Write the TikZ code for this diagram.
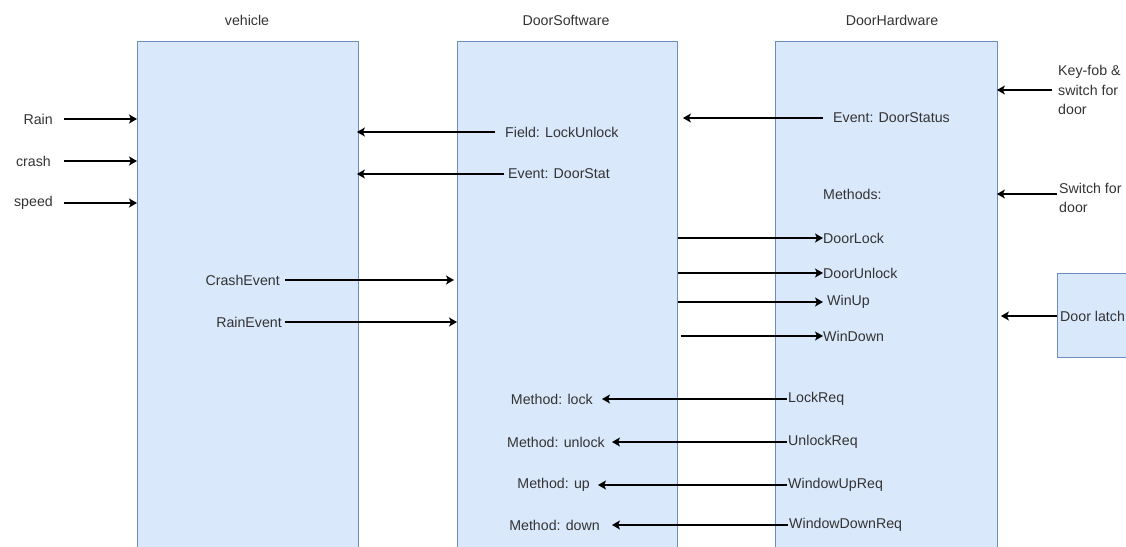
\documentclass[tikz,border=0pt]{standalone}
\usepackage{fontspec}
\setmainfont{Liberation Sans}
\usetikzlibrary{arrows.meta}
\definecolor{boxfill}{HTML}{DAE8FC}
\definecolor{boxline}{HTML}{6C8EBF}
\definecolor{txt}{HTML}{333333}
\tikzset{
  box/.style={draw=boxline, fill=boxfill, line width=0.9pt, inner sep=0pt},
  lbl/.style={text=txt, inner sep=0pt, font=\fontsize{14.2}{19.5}\selectfont},
  arr/.style={draw=black, line width=1.2pt, -{Stealth[length=8pt,width=9pt,inset=2pt]}},
}
\begin{document}
\begin{tikzpicture}[x=1pt,y=-1pt]
\useasboundingbox (0,0) rectangle (1126,546);
\clip (0,0) rectangle (1126,546);
% boxes
\node[box, anchor=north west, minimum width=221pt, minimum height=520pt] (veh) at (137,41) {};
\node[box, anchor=north west, minimum width=220pt, minimum height=520pt] (sw) at (457,41) {};
\node[box, anchor=north west, minimum width=222pt, minimum height=520pt] (hw) at (775,41) {};
\node[box, anchor=north west, minimum width=100pt, minimum height=84pt] (latch) at (1057,273) {};
% titles
\node[lbl] (tveh) at (247,20) {vehicle};
\node[lbl] (tsw) at (566,20) {DoorSoftware};
\node[lbl] (thw) at (892,20) {DoorHardware};
% vehicle inputs
\node[lbl, anchor=east] (rain) at (53,119) {Rain};
\node[lbl, anchor=east] (crash) at (51,161) {crash};
\node[lbl, anchor=east] (speed) at (53,203) {speed};
\draw[arr] ([xshift=11pt]rain.east) -- (rain.east -| veh.west);
\draw[arr] ([xshift=13pt]crash.east) -- (crash.east -| veh.west);
\draw[arr] ([xshift=11pt]speed.east) -- (speed.east -| veh.west);
% software -> vehicle
\node[lbl, anchor=west] (fld) at (505,132) {Field: LockUnlock};
\node[lbl, anchor=west] (evds) at (508,174) {Event: DoorStat};
\draw[arr, shorten >=-2pt] ([xshift=-10pt]fld.west) -- (fld.west -| veh.east);
\draw[arr, shorten >=-2pt] ([xshift=-4pt]evds.west) -- (evds.west -| veh.east);
% vehicle -> software
\node[lbl, anchor=east] (ce) at (280,280) {CrashEvent};
\node[lbl, anchor=east] (re) at (282,322) {RainEvent};
\draw[arr, shorten >=3pt] ([xshift=5pt]ce.east) -- (ce.east -| sw.west);
\draw[arr] ([xshift=3pt]re.east) -- (re.east -| sw.west);
% hardware -> software
\node[lbl, anchor=west] (evst) at (833,118) {Event: DoorStatus};
\draw[arr, shorten >=5pt] ([xshift=-10pt]evst.west) -- (evst.west -| sw.east);
\node[lbl, anchor=west] (meth) at (823,194) {Methods:};
% software -> hardware methods
\node[lbl, anchor=west] (dl) at (823,238) {DoorLock};
\node[lbl, anchor=west] (du) at (823,273) {DoorUnlock};
\node[lbl, anchor=west] (wu) at (827,302) {WinUp};
\node[lbl, anchor=west] (wd) at (823,336) {WinDown};
\draw[arr] (dl.west -| sw.east) -- (dl.west);
\draw[arr] (du.west -| sw.east) -- (du.west);
\draw[arr] (wu.west -| sw.east) -- ([xshift=-4pt]wu.west);
\draw[arr] ([xshift=3pt]wd.west -| sw.east) -- (wd.west);
% requests
\node[lbl, anchor=west] (lr) at (788,399) {LockReq};
\node[lbl, anchor=west] (ur) at (788,442) {UnlockReq};
\node[lbl, anchor=west] (wur) at (788,485) {WindowUpReq};
\node[lbl, anchor=west] (wdr) at (789,525) {WindowDownReq};
\node[lbl, anchor=east] (mlock) at (593,399) {Method: lock};
\node[lbl, anchor=east] (munl) at (605,442) {Method: unlock};
\node[lbl, anchor=east] (mup) at (590,485) {Method: up};
\node[lbl, anchor=east] (mdn) at (600,525) {Method: down};
\draw[arr] ([xshift=-1pt]lr.west) -- ([xshift=9pt]mlock.east);
\draw[arr] ([xshift=-1pt]ur.west) -- ([xshift=7pt]munl.east);
\draw[arr] ([xshift=-1pt]wur.west) -- ([xshift=8pt]mup.east);
\draw[arr] ([xshift=-1pt]wdr.west) -- ([xshift=12pt]mdn.east);
% external inputs to hardware
\node[lbl, anchor=west, align=left] (kf) at (1058,90) {Key-fob \&\\switch for\\door};
\draw[arr, shorten >=-1pt] ([xshift=-6pt]kf.west) -- (kf.west -| hw.east);
\node[lbl, anchor=west, align=left] (sf) at (1059,198) {Switch for\\door};
\draw[arr, shorten >=-1pt] ([xshift=-2pt,yshift=4pt]sf.west) -- ([yshift=4pt]sf.west -| hw.east);
\node[lbl, anchor=west] (dlt) at (1060,316) {Door latch};
\draw[arr, shorten >=3pt] (dlt.west -| latch.west) -- (dlt.west -| hw.east);
\end{tikzpicture}
\end{document}
